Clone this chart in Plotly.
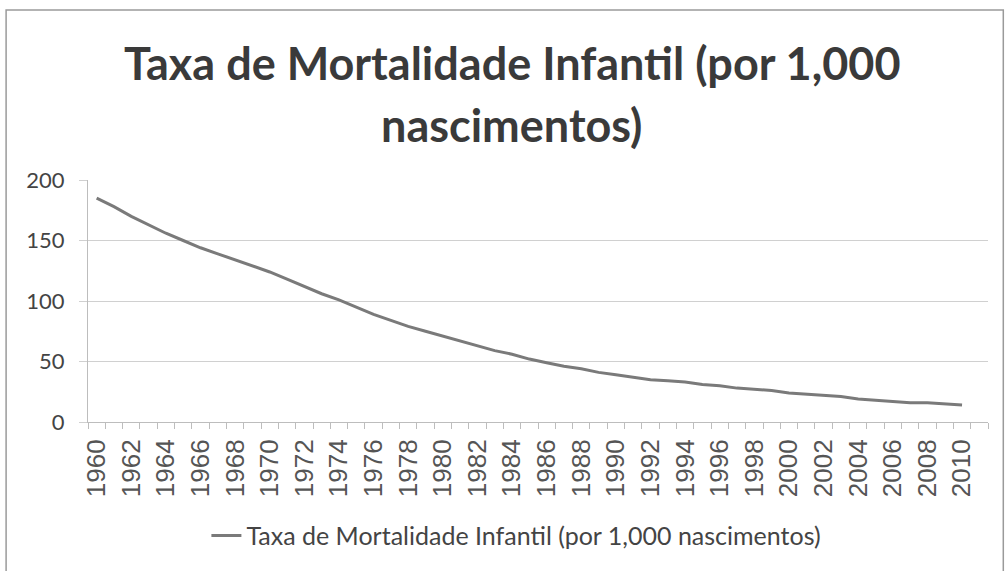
import plotly.graph_objects as go

# ---------------- DATA -----------------------------
anos = list(range(1960, 2011))
taxa = [185, 178, 170, 163, 156, 150, 144, 139, 134, 129,
        124, 118, 112, 106, 101, 95, 89, 84, 79, 75,
        71, 67, 63, 59, 56, 52, 49, 46, 44, 41,
        39, 37, 35, 34, 33, 31, 30, 28, 27, 26,
        24, 23, 22, 21, 19, 18, 17, 16, 16, 15,
        14]
y_ticks = [0, 50, 100, 150, 200]
x_ticks = list(range(1960, 2011, 2))

titulo = ['Taxa de Mortalidade Infantil (por 1,000', 'nascimentos)']
nome = 'Taxa de Mortalidade Infantil (por 1,000 nascimentos)'

# ---------------- LINE CHART -----------------------------
fig = go.Figure(data=[
    go.Scatter(x=anos, y=taxa, mode='lines', name=nome,
               line=dict(color='#7a7a7a', width=3))
])

fig.update_layout(
    width=1006, height=571,
    margin=dict(l=88, r=18, t=180, b=146),
    paper_bgcolor='white', plot_bgcolor='white',
    font=dict(family='Lato, Carlito, Arial', color='#444444'),
    showlegend=True,
    legend=dict(orientation='h', x=0.476, xanchor='center', y=-0.47, yanchor='middle',
                font=dict(size=25, color='#444444')),
)

# title as two annotations (centered lines)
for i, linha in enumerate(titulo):
    fig.add_annotation(text='<b>' + linha + '</b>', xref='paper', yref='paper',
                       x=0.471, y=[1.482, 1.229][i], xanchor='center', yanchor='middle',
                       showarrow=False,
                       font=dict(size=45, color='#3a3a3a', family='Lato, Carlito, Arial'))

fig.update_xaxes(
    range=[1959.5, 2011.5], tickmode='array', tickvals=x_ticks,
    ticktext=[str(a) for a in x_ticks], tickangle=-90,
    tickfont=dict(size=26, family='Arial, Liberation Sans', color='#555555'),
    showgrid=False, showline=True, linecolor='#bdbdbd', linewidth=1,
    ticks='', zeroline=False, ticklabelstandoff=6,
    minor=dict(tickmode='linear', tick0=1959.5, dtick=1, ticks='outside',
               ticklen=6, tickcolor='#bdbdbd', showgrid=False),
)

fig.update_yaxes(
    range=[0, 200], tickvals=y_ticks, tickfont=dict(size=22, color='#444444'),
    showgrid=True, gridcolor='#d0d0d0', gridwidth=1,
    showline=True, linecolor='#bdbdbd', linewidth=1,
    ticks='outside', ticklen=8, tickcolor='#d0d0d0', zeroline=False,
    ticklabelstandoff=10,
)

# chart border
fig.add_shape(type='rect', xref='paper', yref='paper',
              x0=-0.091, x1=1.017, y0=-0.7, y1=1.702,
              line=dict(color='#9a9a9a', width=1.5), fillcolor='rgba(0,0,0,0)')

# drop the default 8px page margin so the figure fills the window
fig.write_html("out.html", config={'displayModeBar': False},
               post_script="document.body.style.margin='0px';document.body.style.overflow='hidden';")
